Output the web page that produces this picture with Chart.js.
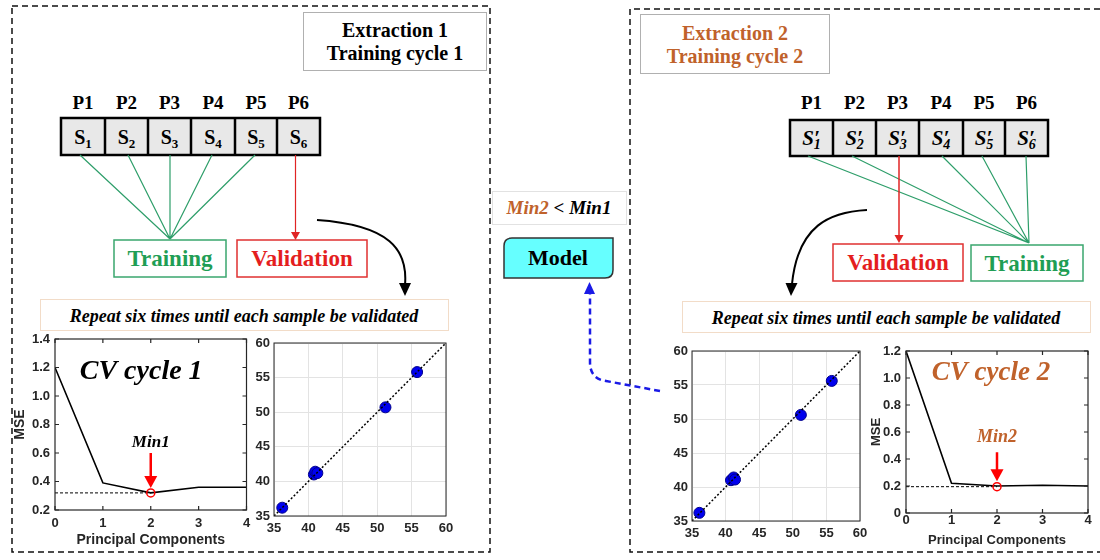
<!DOCTYPE html>
<html>
<head>
<meta charset="utf-8">
<script src="https://cdn.jsdelivr.net/npm/chart.js@4.4.0/dist/chart.umd.min.js"></script>
<style>
body { margin: 0; background: #fff; }
#page { position: relative; width: 1100px; height: 560px; overflow: hidden; }
#page svg { position: absolute; left: 0; top: 0; }
canvas { position: absolute; }
.serif { font-family: "Liberation Serif", "Times New Roman", serif; font-weight: bold; }
</style>
</head>
<body>
<div id="page">
<svg width="1100" height="560" class="serif">
  <!-- dashed frames -->
  <rect x="12" y="6" width="478" height="546" fill="none" stroke="#111" stroke-width="1.5" stroke-dasharray="6 4"/>
  <path d="M1100 9 H630 V552 H1100" fill="none" stroke="#111" stroke-width="1.5" stroke-dasharray="6 4"/>

  <!-- left header -->
  <rect x="303.5" y="12.5" width="183" height="58" fill="#fff" stroke="#b0b0b0"/>
  <text x="395" y="37" font-size="20" text-anchor="middle">Extraction 1</text>
  <text x="395" y="60" font-size="20" text-anchor="middle">Training cycle 1</text>

  <!-- left samples -->
  <g font-size="19" text-anchor="middle">
    <text x="83" y="109">P1</text><text x="126.5" y="109">P2</text><text x="169.5" y="109">P3</text>
    <text x="213" y="109">P4</text><text x="256" y="109">P5</text><text x="298.5" y="109">P6</text>
  </g>
  <rect x="61" y="118" width="259" height="37" fill="#e8e8e8" stroke="#000" stroke-width="2.5"/>
  <path d="M105 118 V155 M148 118 V155 M191 118 V155 M235 118 V155 M277 118 V155" stroke="#000" stroke-width="2.5"/>
  <g font-size="20" text-anchor="middle">
    <text x="83" y="144">S<tspan font-size="13" dy="4">1</tspan></text>
    <text x="126.5" y="144">S<tspan font-size="13" dy="4">2</tspan></text>
    <text x="169.5" y="144">S<tspan font-size="13" dy="4">3</tspan></text>
    <text x="213" y="144">S<tspan font-size="13" dy="4">4</tspan></text>
    <text x="256" y="144">S<tspan font-size="13" dy="4">5</tspan></text>
    <text x="298.5" y="144">S<tspan font-size="13" dy="4">6</tspan></text>
  </g>
  <path d="M80 155 L170 239 M128 155 L170 239 M170 155 L170 239 M212 155 L170 239 M255 155 L170 239" stroke="#2e9e6a" stroke-width="1.2" fill="none"/>
  <path d="M295.5 155 V233" stroke="#e02424" stroke-width="1.2"/>
  <polygon points="291,232 300,232 295.5,240" fill="#e02424"/>
  <rect x="114" y="240" width="112" height="37" fill="none" stroke="#3aa66e" stroke-width="1.5"/>
  <rect x="237" y="240" width="130" height="37" fill="none" stroke="#e03030" stroke-width="1.5"/>
  <text x="170" y="266" font-size="23" text-anchor="middle" fill="#1f9e55">Training</text>
  <text x="302" y="266" font-size="23" text-anchor="middle" fill="#e41e1e">Validation</text>
  <path d="M317 220 C390 225 408 250 405 285" stroke="#000" stroke-width="2" fill="none"/>
  <polygon points="399,283 411,283 405,296" fill="#000"/>
  <rect x="40.5" y="299.5" width="408" height="31" fill="#fff" stroke="#f2dcc8"/>
  <text x="244" y="322" font-size="18" font-style="italic" text-anchor="middle">Repeat six times until each sample be validated</text>

  <!-- middle -->
  <rect x="492.5" y="191.5" width="134" height="33" fill="#fff" stroke="#e2e2e2"/>
  <text x="559" y="214" font-size="19" font-style="italic" text-anchor="middle"><tspan fill="#c0622b">Min2</tspan> &lt; Min1</text>
  <path d="M512 238 H613 V270 Q613 278 605 278 H504 V246 Q504 238 512 238 Z" fill="#66ffff" stroke="#333" stroke-width="1.5"/>
  <text x="558" y="265" font-size="22" text-anchor="middle">Model</text>
  <path d="M660 391 L606 381 Q590 379 590 362 V293" stroke="#1a1ae6" stroke-width="2.5" stroke-dasharray="6 4" fill="none"/>
  <polygon points="584,294 595,294 589.5,282" fill="#1a1ae6"/>

  <!-- right header -->
  <rect x="640.5" y="14.5" width="189" height="59" fill="#fff" stroke="#b0b0b0"/>
  <text x="735" y="40" font-size="20" text-anchor="middle" fill="#c0622b">Extraction 2</text>
  <text x="735" y="63" font-size="20" text-anchor="middle" fill="#c0622b">Training cycle 2</text>

  <!-- right samples -->
  <g font-size="19" text-anchor="middle">
    <text x="811.5" y="109">P1</text><text x="854.5" y="109">P2</text><text x="897.5" y="109">P3</text>
    <text x="941" y="109">P4</text><text x="984" y="109">P5</text><text x="1026.5" y="109">P6</text>
  </g>
  <rect x="790" y="120" width="258" height="36" fill="#e8e8e8" stroke="#000" stroke-width="2.5"/>
  <path d="M833 120 V156 M876 120 V156 M919 120 V156 M963 120 V156 M1005 120 V156" stroke="#000" stroke-width="2.5"/>
  <g font-size="21" font-style="italic" text-anchor="middle">
    <text x="811.5" y="145">S′<tspan font-size="14" dx="-6" dy="4">1</tspan></text>
    <text x="854.5" y="145">S′<tspan font-size="14" dx="-6" dy="4">2</tspan></text>
    <text x="897.5" y="145">S′<tspan font-size="14" dx="-6" dy="4">3</tspan></text>
    <text x="941" y="145">S′<tspan font-size="14" dx="-6" dy="4">4</tspan></text>
    <text x="984" y="145">S′<tspan font-size="14" dx="-6" dy="4">5</tspan></text>
    <text x="1026.5" y="145">S′<tspan font-size="14" dx="-6" dy="4">6</tspan></text>
  </g>
  <path d="M808 156 L1029 243 M852 156 L1029 243 M942 156 L1029 243 M982 156 L1029 243 M1026 156 L1029 243" stroke="#2e9e6a" stroke-width="1.2" fill="none"/>
  <path d="M899 156 V236" stroke="#e02424" stroke-width="1.5"/>
  <polygon points="894.5,235 903.5,235 899,243" fill="#e02424"/>
  <rect x="833" y="244" width="130" height="37" fill="none" stroke="#e03030" stroke-width="1.5"/>
  <rect x="971" y="245" width="112" height="36" fill="none" stroke="#3aa66e" stroke-width="1.5"/>
  <text x="898" y="270" font-size="23" text-anchor="middle" fill="#e41e1e">Validation</text>
  <text x="1027" y="271" font-size="23" text-anchor="middle" fill="#1f9e55">Training</text>
  <path d="M867 210 C830 212 798 225 792 284" stroke="#000" stroke-width="2" fill="none"/>
  <polygon points="785.5,283 797.5,283 791,296" fill="#000"/>
  <rect x="682.5" y="301.5" width="408" height="31" fill="#fff" stroke="#f2dcc8"/>
  <text x="886" y="324" font-size="18" font-style="italic" text-anchor="middle">Repeat six times until each sample be validated</text>
</svg>

<canvas id="mse1" width="252" height="225" style="left:0;top:331px"></canvas>
<canvas id="sc1" width="209" height="223" style="left:246px;top:333px"></canvas>
<canvas id="sc2" width="211" height="215" style="left:658px;top:341px"></canvas>
<canvas id="mse2" width="230" height="215" style="left:866px;top:341px"></canvas>
</div>

<script>
// CV curves
const components = [0, 1, 2, 3, 4];
const mseCycle1 = [1.2, 0.39, 0.32, 0.36, 0.36];
const mseCycle2 = [1.2, 0.22, 0.2, 0.205, 0.2];
const bestComponents = 2;
const minCycle1 = 0.32;
const minCycle2 = 0.195;

// measured vs predicted
const measured1 = [36.2, 40.8, 41.0, 41.3, 51.2, 55.8];
const predicted1 = [36.2, 41.0, 41.4, 41.2, 50.7, 55.8];
const measured2 = [36.1, 40.8, 41.2, 41.4, 51.2, 55.8];
const predicted2 = [36.2, 41.0, 41.4, 41.1, 50.6, 55.6];
const identity = [35, 60];

// tick labels
const pcTicks = [0, 1, 2, 3, 4];
const mseTicks1 = [0.2, 0.4, 0.6, 0.8, 1.0, 1.2, 1.4];
const mseTicks2 = [0, 0.2, 0.4, 0.6, 0.8, 1.0, 1.2];
const refTicks = [35, 40, 45, 50, 55, 60];

const SANS = '"Liberation Sans", Arial, sans-serif';
const SERIF = '"Liberation Serif", "Times New Roman", serif';
const ORANGE = '#c0622b';

function toPoints(xs, ys) {
    return xs.map((x, i) => ({x: x, y: ys[i]}));
}

// box around the plot like matlab, with ticks pointing in
const framePlugin = {
    id: 'frame',
    afterDraw(chart, args, opts) {
        const {ctx, chartArea: a, scales} = chart;
        ctx.save();
        ctx.strokeStyle = '#262626';
        ctx.lineWidth = opts.width || 1;
        ctx.strokeRect(a.left, a.top, a.right - a.left, a.bottom - a.top);
        if (opts.ticks) {
            ctx.beginPath();
            scales.x.ticks.forEach(t => {
                const px = scales.x.getPixelForValue(t.value);
                ctx.moveTo(px, a.bottom); ctx.lineTo(px, a.bottom - 4);
                ctx.moveTo(px, a.top); ctx.lineTo(px, a.top + 4);
            });
            scales.y.ticks.forEach(t => {
                const py = scales.y.getPixelForValue(t.value);
                ctx.moveTo(a.left, py); ctx.lineTo(a.left + 4, py);
                ctx.moveTo(a.right, py); ctx.lineTo(a.right - 4, py);
            });
            ctx.stroke();
        }
        ctx.restore();
    }
};

// min marker: label, red arrow and the big title
const minMarkPlugin = {
    id: 'minMark',
    afterDatasetsDraw(chart, args, o) {
        if (!o.label) return;
        const {ctx, chartArea: a, scales: {x, y}} = chart;
        const px = x.getPixelForValue(o.x);
        const top = y.getPixelForValue(o.arrowFrom);
        const tip = y.getPixelForValue(o.arrowTo);
        ctx.save();
        ctx.textAlign = 'center';
        ctx.textBaseline = 'middle';
        ctx.font = 'italic bold ' + o.labelSize + 'px ' + SERIF;
        ctx.fillStyle = o.color;
        ctx.fillText(o.label, px, y.getPixelForValue(o.labelY));
        ctx.strokeStyle = '#ff0000';
        ctx.fillStyle = '#ff0000';
        ctx.lineWidth = 2.5;
        ctx.beginPath();
        ctx.moveTo(px, top);
        ctx.lineTo(px, tip - 10);
        ctx.stroke();
        ctx.beginPath();
        ctx.moveTo(px - 6.5, tip - 12);
        ctx.lineTo(px + 6.5, tip - 12);
        ctx.lineTo(px, tip);
        ctx.closePath();
        ctx.fill();
        ctx.font = 'italic bold ' + o.titleSize + 'px ' + SERIF;
        ctx.fillStyle = o.color;
        ctx.fillText(o.title, a.left + (a.right - a.left) * o.titleAt[0], a.top + (a.bottom - a.top) * o.titleAt[1]);
        ctx.restore();
    }
};

function fixTicks(list) {
    return s => { s.ticks = list.map(v => ({value: v})); };
}

function mseChart(id, values, minValue, yTicks, sizes, mark) {
    return new Chart(document.getElementById(id), {
        type: 'scatter',
        data: {
            datasets: [
                {
                    data: [{x: bestComponents, y: minValue}],
                    pointRadius: 4,
                    pointBorderWidth: 1.5,
                    borderColor: '#ff0000',
                    backgroundColor: 'rgba(255,255,255,0)'
                },
                {
                    data: toPoints(components, values),
                    showLine: true,
                    borderColor: '#000',
                    borderWidth: 1.6,
                    pointRadius: 0
                },
                {
                    data: [{x: components[0], y: minValue}, {x: bestComponents, y: minValue}],
                    showLine: true,
                    borderColor: '#000',
                    borderWidth: 1,
                    borderDash: [3, 2],
                    pointRadius: 0
                }
            ]
        },
        options: {
            responsive: false,
            animation: false,
            layout: {padding: sizes.pad},
            plugins: {
                legend: {display: false},
                tooltip: {enabled: false},
                frame: {ticks: true, width: 1.2},
                minMark: mark
            },
            scales: {
                x: {
                    type: 'linear',
                    min: 0,
                    max: 4,
                    afterBuildTicks: fixTicks(pcTicks),
                    afterFit: s => { s.height = sizes.xh; s.paddingLeft = 0; s.paddingRight = 0; },
                    grid: {display: false, drawTicks: false},
                    border: {display: false},
                    ticks: {color: '#262626', padding: sizes.xpad, font: {family: SANS, size: 13, weight: 'bold'}},
                    title: {
                        display: true,
                        text: 'Principal Components',
                        color: '#262626',
                        font: {family: SANS, size: sizes.titleSize, weight: 'bold'},
                        padding: {top: 0, bottom: sizes.titleBottom}
                    }
                },
                y: {
                    type: 'linear',
                    min: yTicks[0],
                    max: yTicks[yTicks.length - 1],
                    afterBuildTicks: fixTicks(yTicks),
                    afterFit: s => { s.width = sizes.yw; s.paddingTop = 0; s.paddingBottom = 0; },
                    grid: {display: false, drawTicks: false},
                    border: {display: false},
                    ticks: {
                        color: '#262626',
                        padding: 5,
                        font: {family: SANS, size: 13, weight: 'bold'},
                        callback: v => v === 0 ? '0' : v.toFixed(1)
                    },
                    title: {
                        display: true,
                        text: 'MSE',
                        color: '#262626',
                        font: {family: SANS, size: sizes.titleSize, weight: 'bold'},
                        padding: {top: sizes.titleLeft, bottom: 0}
                    }
                }
            }
        },
        plugins: [framePlugin, minMarkPlugin]
    });
}

function refChart(id, xs, ys, sizes) {
    const tickFont = {family: SANS, size: 13, weight: 'bold'};
    return new Chart(document.getElementById(id), {
        type: 'scatter',
        data: {
            datasets: [
                {
                    data: toPoints(identity, identity),
                    showLine: true,
                    borderColor: '#000',
                    borderWidth: 1.5,
                    borderDash: [2, 2],
                    pointRadius: 0
                },
                {
                    data: toPoints(xs, ys),
                    pointRadius: 5.5,
                    pointBorderWidth: 1,
                    backgroundColor: '#0000ee',
                    borderColor: '#00008b'
                }
            ]
        },
        options: {
            responsive: false,
            animation: false,
            layout: {padding: sizes.pad},
            plugins: {
                legend: {display: false},
                tooltip: {enabled: false},
                frame: {ticks: false, width: 1}
            },
            scales: {
                x: {
                    type: 'linear',
                    min: 35,
                    max: 60,
                    afterBuildTicks: fixTicks(refTicks),
                    afterFit: s => { s.height = sizes.xh; s.paddingLeft = 0; s.paddingRight = 0; },
                    grid: {color: '#e3e3e3', drawTicks: false},
                    border: {display: false},
                    ticks: {color: '#262626', padding: sizes.xpad, font: tickFont}
                },
                y: {
                    type: 'linear',
                    min: 35,
                    max: 60,
                    afterBuildTicks: fixTicks(refTicks),
                    afterFit: s => { s.width = sizes.yw; s.paddingTop = 0; s.paddingBottom = 0; },
                    grid: {color: '#e3e3e3', drawTicks: false},
                    border: {display: false},
                    ticks: {color: '#262626', padding: 4, font: tickFont}
                }
            }
        },
        plugins: [framePlugin]
    });
}

mseChart('mse1', mseCycle1, minCycle1, mseTicks1,
    {pad: {top: 8, right: 3, left: 0, bottom: 0}, xh: 46, yw: 55, xpad: 6, titleSize: 14, titleBottom: 7.6, titleLeft: 11.6},
    {x: bestComponents, label: 'Min1', labelY: 0.673, labelSize: 17, arrowFrom: 0.6, arrowTo: 0.355,
     color: '#000', title: 'CV cycle 1', titleSize: 28, titleAt: [0.45, 0.19]});

refChart('sc1', measured1, predicted1,
    {pad: {top: 10, right: 9, left: 0, bottom: 0}, xh: 40, yw: 28, xpad: 4.5});

refChart('sc2', measured2, predicted2,
    {pad: {top: 10, right: 9, left: 0, bottom: 0}, xh: 35, yw: 34, xpad: 4.5});

mseChart('mse2', mseCycle2, minCycle2, mseTicks2,
    {pad: {top: 10, right: 8, left: 0, bottom: 0}, xh: 43, yw: 40, xpad: 0, titleSize: 13, titleBottom: 7.6, titleLeft: 2.6},
    {x: bestComponents, label: 'Min2', labelY: 0.563, labelSize: 18, arrowFrom: 0.45, arrowTo: 0.235,
     color: ORANGE, title: 'CV cycle 2', titleSize: 27, titleAt: [0.467, 0.136]});
</script>
</body>
</html>
